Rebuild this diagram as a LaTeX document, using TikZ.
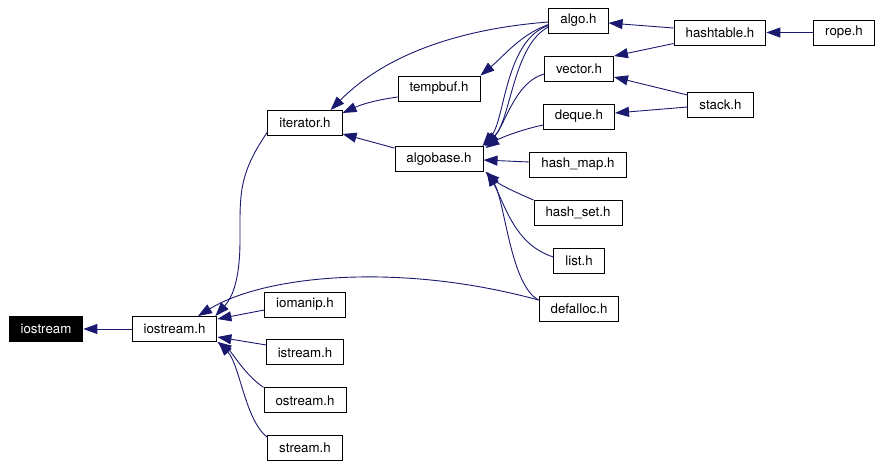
\documentclass[tikz,border=0pt]{standalone}
\usepackage{fontspec}
\setmainfont{TeX Gyre Heros}
\usepackage{tikz}
\usetikzlibrary{arrows.meta,positioning}
\definecolor{midnightblue}{RGB}{25,25,112}
\tikzset{
    %Define standard arrow tip
    >={Triangle[length=14pt,width=10pt]},
    %Define style for boxes
    boks/.style={
           rectangle,
           draw=black, line width=0.9pt,
           fill=white,
           inner xsep=11.5pt,
           inner ysep=0pt,
           minimum height=25pt,
           font=\fontsize{13.3}{16}\selectfont,
           text centered},
    rotboks/.style={
           boks,
           fill=black,
           text=white},
    % Define arrow style
    pil/.style={
           ->,
           draw=midnightblue,
           line width=0.9pt}
}
\begin{document}
\begin{tikzpicture}[x=1pt,y=1pt,node distance=22pt]
\useasboundingbox (0,0) rectangle (882,-467);
 %nodes
\node[rotboks](1) at (46,-329){iostream};
\node[boks](2) at (174.5,-329){iostream.h};
\node[boks](3) at (305,-304.5){iomanip.h};
\node[boks, below=of 3](4){istream.h};
\node[boks, below=of 4](5){ostream.h};
\node[boks, below=of 5](6){stream.h};
\node[boks](7) at (305,-123){iterator.h};
\node[boks](8) at (439,-88.5){tempbuf.h};
\node[boks](9) at (439,-159){algobase.h};
\node[boks](10) at (578.5,-20.5){algo.h};
\node[boks](11) at (579,-69){vector.h};
\node[boks](12) at (579,-116.5){deque.h};
\node[boks](13) at (578,-164.5){hash\_map.h};
\node[boks](14) at (578,-213){hash\_set.h};
\node[boks](15) at (579,-260.5){list.h};
\node[boks](16) at (579,-309){defalloc.h};
\node[boks](17) at (720,-32.5){hashtable.h};
\node[boks](18) at (720.5,-105){stack.h};
\node[boks](19) at (844,-32.5){rope.h};
 %straight edges
\path (2) edge[pil] (1)
    (19) edge[pil] (17)
    ([yshift=-5.5pt]3.west) edge[pil] ([yshift=10pt]2.east)
    ([yshift=7.5pt]4.west) edge[pil] ([yshift=-8pt]2.east)
    ([yshift=-8.5pt]8.west) edge[pil, bend right=8] ([yshift=10pt]7.east)
    ([yshift=-2pt]9.north west) edge[pil] ([yshift=2pt]7.south east)
    ([yshift=2.5pt]13.west) edge[pil] ([yshift=-1pt]9.east)
    ([yshift=4.5pt]17.west) edge[pil] ([yshift=-2.5pt]10.east)
    ([yshift=-11pt]17.west) edge[pil] (11.north east)
    ([yshift=10pt]18.west) edge[pil] ([yshift=-8pt]11.east)
    ([yshift=-2pt]18.west) edge[pil] ([yshift=3.5pt]12.east);
 %curved edges
\draw[pil] (5.north west) .. controls (245,-375) and (232,-352) .. (2.south east);
\draw[pil] ([yshift=-2pt]6.north west) .. controls (245,-420) and (240,-365) .. ([xshift=1pt]2.south east);
\draw[pil] ([yshift=4pt]7.south west) .. controls (238,-175) and (240,-195) .. (240,-240)
    .. controls (240,-285) and (230,-300) .. ([xshift=-2pt]2.north east);
\draw[pil] ([yshift=-4pt]16.north west) .. controls (400,-262) and (265,-275) .. ([xshift=23.5pt]2.north);
\draw[pil] ([yshift=-1.5pt]10.west) .. controls (470,-28) and (390,-50) .. ([xshift=-12pt]7.north east);
\draw[pil] ([yshift=-4pt]10.west) .. controls (520,-35) and (505,-55) .. (8.north east);
\draw[pil] ([yshift=-5pt]10.west) .. controls (505,-40) and (505,-120) .. ([xshift=-1pt]9.north east);
\draw[pil] ([yshift=-6.5pt]10.west) .. controls (513,-45) and (511,-120) .. ([xshift=1pt]9.north east);
\draw[pil] ([yshift=-5pt]11.west) .. controls (515,-82) and (505,-125) .. ([xshift=2pt]9.north east);
\draw[pil] ([yshift=-8.5pt]12.west) .. controls (520,-130) and (500,-138) .. ([xshift=2pt,yshift=-2pt]9.north east);
\draw[pil] (14.north west) .. controls (515,-192) and (500,-185) .. ([xshift=2pt]9.south east);
\draw[pil] ([yshift=3.5pt]15.west) .. controls (515,-245) and (505,-205) .. ([xshift=4pt]9.south east);
\draw[pil] ([yshift=-4pt]16.north west) .. controls (510,-285) and (505,-200) .. ([xshift=3pt]9.south east);
\end{tikzpicture}
\end{document}
